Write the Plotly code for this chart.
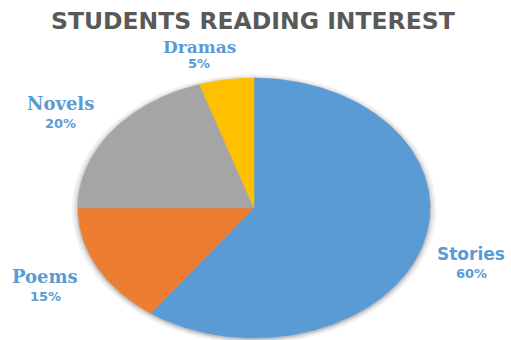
import numpy as np
import plotly.graph_objects as go

# ---- data ----
categories = ["Stories", "Poems", "Novels", "Dramas"]
values = [60, 15, 20, 5]
pct_labels = ["60%", "15%", "20%", "5%"]
colors = ["#5B9BD5", "#ED7D31", "#A5A5A5", "#FFC000"]
title_text = "STUDENTS READING INTEREST"

fig = go.Figure()

total = float(sum(values))
fracs = np.array(values) / total
starts = np.concatenate([[0.0], np.cumsum(fracs)[:-1]])
ends = np.cumsum(fracs)

# subtle shadow around the pie
t = np.linspace(0, 2 * np.pi, 361)
for w, a in [(1.035, 0.05), (1.02, 0.08), (1.008, 0.12)]:
    fig.add_trace(go.Scatter(x=w * np.sin(t), y=w * np.cos(t) - 0.008, mode="lines",
                             fill="toself", fillcolor=f"rgba(0,0,0,{a})",
                             line=dict(width=0), hoverinfo="skip", showlegend=False))

# slices: clockwise from 12 o'clock
for cat, s, e, c in zip(categories, starts, ends, colors):
    n = max(int((e - s) * 400), 4)
    ang = np.linspace(s, e, n) * 2 * np.pi
    xs = np.concatenate([[0], np.sin(ang), [0]])
    ys = np.concatenate([[0], np.cos(ang), [0]])
    fig.add_trace(go.Scatter(x=xs, y=ys, mode="lines", fill="toself",
                             fillcolor=c, line=dict(color=c, width=0.5),
                             name=cat, hoverinfo="name", showlegend=False))

# labels placed outside each slice
label_r = [1.32, 1.33, 1.30, 1.22]
label_dx = [-0.02, 0.0, -0.05, -0.12]
label_dy = [-0.02, 0.0, -0.04, -0.03]
name_shift = [10, 10, 10, 8]
pct_shift = [-10, -10, -10, -8]
name_fonts = ["DejaVu Sans", "DejaVu Serif", "DejaVu Serif", "DejaVu Serif"]
name_sizes = [17, 18, 18, 17]
label_blue = "#5B9BD5"
for i, cat in enumerate(categories):
    mid = (starts[i] + ends[i]) / 2 * 2 * np.pi
    lx = label_r[i] * np.sin(mid) + label_dx[i]
    ly = label_r[i] * np.cos(mid) + label_dy[i]
    fig.add_annotation(x=lx, y=ly, xref="x", yref="y", text=f"<b>{cat}</b>",
                       showarrow=False, yshift=name_shift[i],
                       font=dict(family=name_fonts[i], size=name_sizes[i], color=label_blue))
    fig.add_annotation(x=lx, y=ly, xref="x", yref="y", text=f"<b>{pct_labels[i]}</b>",
                       showarrow=False, yshift=pct_shift[i],
                       font=dict(family="DejaVu Sans", size=13, color=label_blue))

fig.add_annotation(x=0.495, y=1 - 21 / 340, xref="paper", yref="paper",
                   xanchor="center", yanchor="middle",
                   text=f"<b>{title_text}</b>", showarrow=False,
                   font=dict(family="DejaVu Sans", size=23.5, color="#595959"))

fig.update_layout(
    width=511, height=340,
    margin=dict(l=0, r=0, t=0, b=0),
    paper_bgcolor="white", plot_bgcolor="white",
    xaxis=dict(range=[-1.443, 1.460], visible=False, fixedrange=True),
    yaxis=dict(range=[-1.015, 1.6], visible=False, fixedrange=True),
    showlegend=False,
)

fig.write_html("out.html")
